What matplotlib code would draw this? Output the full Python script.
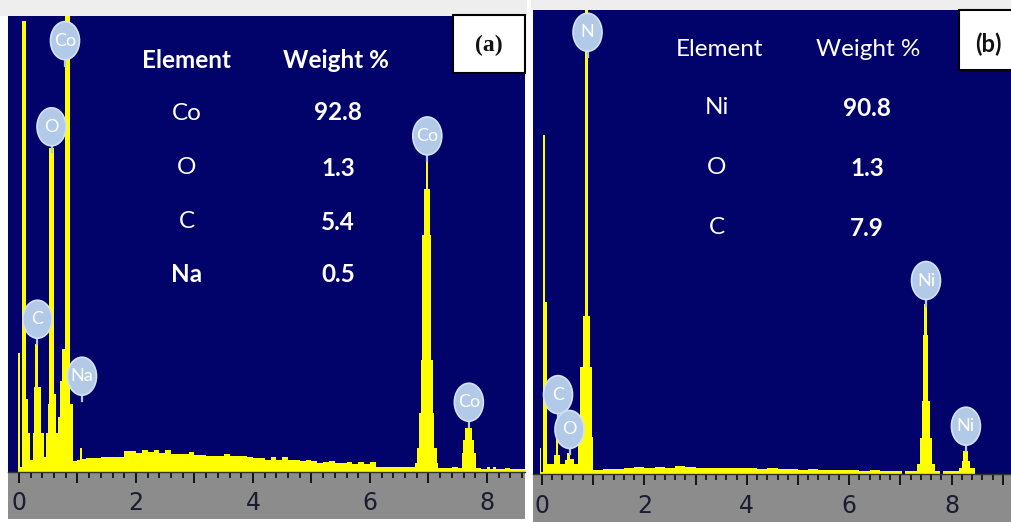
import matplotlib
matplotlib.use("Agg")
import matplotlib.pyplot as plt
from matplotlib.patches import Ellipse, Rectangle
from matplotlib.lines import Line2D
from matplotlib.transforms import ScaledTranslation
import numpy as np

# ---------------- data ----------------
# Panel (a): Co sample, bin edges (keV) and counts (arb. units, 0-100)
edges_a = [-0.19, -0.02, 0.01, 0.045, 0.12, 0.15, 0.19, 0.24, 0.26, 0.28, 0.33, 0.38, 0.42,
           0.46, 0.49, 0.52, 0.60, 0.63, 0.67, 0.70, 0.74, 0.78, 0.88, 0.92, 1.00, 1.04, 1.08,
           1.15, 1.2, 1.3, 1.4, 1.5, 1.6, 1.7, 1.8, 1.9, 2.0, 2.1, 2.2, 2.3, 2.4, 2.5, 2.6, 2.7,
           2.8, 2.9, 3.0, 3.1, 3.2, 3.3, 3.4, 3.5, 3.6, 3.7, 3.8, 3.9, 4.0, 4.1, 4.2, 4.3, 4.4,
           4.5, 4.6, 4.7, 4.8, 4.9, 5.0, 5.1, 5.2, 5.3, 5.4, 5.5, 5.6, 5.7, 5.8, 5.9, 6.0, 6.1,
           6.2, 6.3, 6.4, 6.5, 6.6, 6.7, 6.77, 6.80, 6.84, 6.87, 6.89, 6.92, 6.95, 7.00, 7.03,
           7.045, 7.07, 7.10, 7.14, 7.17, 7.3, 7.4, 7.5, 7.57, 7.59, 7.62, 7.74, 7.78, 7.82, 7.9,
           8.0, 8.05, 8.1, 8.15, 8.3, 8.4, 8.5, 8.65]
counts_a = [0, 26, 1, 99, 16, 8.5, 2.6, 8.5, 18.6, 28, 18.6, 8.5, 3.3,
            8.5, 15, 71, 17, 8.5, 12, 20, 27, 100, 15, 2.4, 2.6, 5.2, 2.8,
            3.0, 3.1, 3.1, 3.2, 3.2, 3.3, 3.3, 4.6, 4.6, 4.2, 4.8, 4.3, 4.8, 4.2, 4.8, 3.9, 3.9,
            3.9, 4.4, 3.7, 3.7, 3.6, 3.6, 3.5, 3.9, 3.5, 3.4, 3.6, 3.3, 3.1, 3.0, 2.7, 3.2, 2.6,
            3.2, 2.6, 2.6, 2.5, 2.7, 2.4, 2.0, 2.1, 2.5, 2.0, 1.9, 2.3, 1.8, 2.2, 1.7, 2.2, 1.1,
            1.1, 1.1, 1.0, 1.1, 1.0, 1.2, 2, 5.2, 13, 24.5, 52, 62, 71, 62,
            52, 24.5, 13, 5.2, 2, 0.9, 0.9, 1.0, 0.9, 4.2, 7, 9.6, 7, 4.2, 0.8,
            0.7, 1.1, 0.7, 1.1, 0.7, 0.9, 0.7, 0.7]

peak_names_a = ["Co", "O", "C", "Na", "Co", "Co"]
peak_energy_a = [0.786, 0.556, 0.316, 1.077, 6.98, 7.69]
peak_level_a = [94.6, 75.7, 33.5, 21.0, 73.7, 15.3]

table_elem_a = ["Co", "O", "C", "Na"]
table_wt_a = ["92.8", "1.3", "5.4", "0.5"]

# Panel (b): Ni sample
edges_b = [-0.18, -0.04, -0.01, 0.025, 0.06, 0.09, 0.24, 0.27, 0.32, 0.35, 0.45, 0.48, 0.55,
           0.63, 0.71, 0.74, 0.81, 0.84, 0.905, 0.94, 0.97, 1.0, 1.2, 1.4, 1.6, 1.8, 2.0, 2.2,
           2.4, 2.6, 2.8, 3.0, 3.2, 3.4, 3.6, 3.8, 4.0, 4.2, 4.4, 4.6, 4.8, 5.0, 5.2, 5.4, 5.6,
           5.8, 6.0, 6.2, 6.4, 6.6, 6.8, 7.0, 7.03, 7.09, 7.318, 7.383, 7.415, 7.448, 7.467,
           7.513, 7.546, 7.578, 7.61, 7.676, 7.77, 7.83, 8.15, 8.2, 8.23, 8.33, 8.36, 8.46, 9.18]
counts_b = [0, 5.6, 0.5, 73, 37, 2.2, 4, 10, 4, 2.2, 3, 4.5,
            3.2, 2.2, 8, 23, 34, 100, 34, 23, 8, 0.9, 1.0, 1.1, 1.2, 1.6, 1.3, 1.6,
            1.3, 1.7, 1.6, 1.3, 1.3, 1.3, 1.4, 1.3, 1.2, 1.1, 1.2, 1.0, 1.1, 0.9, 1.0, 0.9, 0.8,
            0.9, 0.8, 0.7, 0.8, 0.7, 0.7, 0.6, 0, 0.6, 2.2, 7.8, 15.8, 30, 36.7,
            30, 15.8, 7.8, 2.2, 0.6, 0, 0.6, 1.3, 2.8, 5.0, 2.8, 1.3, 0]

peak_names_b = ["N", "C", "O", "Ni", "Ni"]
peak_energy_b = [0.889, 0.3125, 0.537, 7.50, 8.28]
peak_level_b = [95.2, 17.1, 9.6, 41.7, 10.3]

table_elem_b = ["Ni", "O", "C"]
table_wt_b = ["90.8", "1.3", "7.9"]

tick_labels = ["0", "2", "4", "6", "8"]

# ---------------- style ----------------
W, H = 1012, 522
NAVY = "#02026b"
YELLOW = "#ffff00"
GRAY = "#8c8c8c"
BUBBLE = "#b3c9e8"
BUBBLE_EDGE = "#d3e2f5"

fig = plt.figure(figsize=(W / 100, H / 100), dpi=100)
fig.patch.set_facecolor("white")


def px_axes(x0, y0, x1, y1):
    return fig.add_axes([x0 / W, 1 - y1 / H, (x1 - x0) / W, (y1 - y0) / H])


def fx(x):
    return x / W


def fy(y):
    return 1 - y / H


# light strips at the top
fig.patches.append(Rectangle((fx(0), fy(16)), fx(527), 16 / H, transform=fig.transFigure,
                             facecolor="#eeeeee", edgecolor="none", zorder=0))
fig.patches.append(Rectangle((fx(531), fy(10)), fx(481), 10 / H, transform=fig.transFigure,
                             facecolor="#eeeeee", edgecolor="none", zorder=0))


def bubble(ax, E, c, name):
    tr = fig.dpi_scale_trans + ScaledTranslation(E, c, ax.transData)
    ax.add_line(Line2D([0, 0], [-0.17, -0.25], transform=tr, color=BUBBLE, lw=1.6, zorder=4))
    ax.add_patch(Ellipse((0, 0), 0.29, 0.38, transform=tr, facecolor=BUBBLE,
                         edgecolor=BUBBLE_EDGE, lw=1.2, zorder=5))
    ax.text(E, c, name, transform=ax.transData, ha="center", va="center", color="white",
            fontsize=13, family="Lato", zorder=6)


def panel(spec_box, axis_box, xlim, edges, counts, names, energies, levels):
    ax = px_axes(*spec_box)
    ax.set_facecolor(NAVY)
    ax.stairs(counts, edges, fill=True, color=YELLOW, lw=0)
    ax.set_xticks([])
    ax.set_yticks([])
    ax.set_xlim(*xlim)
    ax.set_ylim(0, 100)
    for s in ax.spines.values():
        s.set_visible(False)
    for n, e, l in zip(names, energies, levels):
        bubble(ax, e, l, n)

    axx = px_axes(*axis_box)
    axx.set_facecolor(GRAY)
    axx.set_yticks([])
    axx.xaxis.set_ticks_position("top")
    axx.set_xticks(range(0, 10))
    axx.set_xticks(np.arange(0, 9.2, 0.2), minor=True)
    axx.set_xlim(*xlim)
    axx.set_ylim(0, 1)
    axx.tick_params(axis="x", which="major", direction="in", length=8, width=1.2,
                    color="black", labeltop=False, labelbottom=False)
    axx.tick_params(axis="x", which="minor", direction="in", length=4, width=1.1,
                    color="black")
    for s in ["left", "right", "bottom"]:
        axx.spines[s].set_visible(False)
    axx.spines["top"].set_color("#333333")
    axx.spines["top"].set_linewidth(1.0)
    for i, lab in enumerate(tick_labels):
        axx.text(2 * i, 0.33, lab, ha="center", va="center", fontsize=17,
                 color="#1c1c30", family=["Liberation Sans Narrow", "DejaVu Sans"])
    return ax


axa = panel((8, 16, 525, 472), (8, 472, 525, 519), (-0.188, 8.65),
            edges_a, counts_a, peak_names_a, peak_energy_a, peak_level_a)
axb = panel((533, 10, 1012, 474), (533, 474, 1012, 522), (-0.176, 9.18),
            edges_b, counts_b, peak_names_b, peak_energy_b, peak_level_b)

# ---------------- tables ----------------
TF = "Lato"
FS = 17.5
fig.text(fx(187), fy(60), "Element", ha="center", va="center", color="white",
         fontsize=FS, fontweight="bold", family=TF)
fig.text(fx(336), fy(60), "Weight %", ha="center", va="center", color="white",
         fontsize=FS, fontweight="bold", family=TF)
rows_a = [113, 168, 222, 274]
for i, (el, wt) in enumerate(zip(table_elem_a, table_wt_a)):
    fig.text(fx(187), fy(rows_a[i]), el, ha="center", va="center", color="white",
             fontsize=FS, fontweight="bold" if el == "Na" else "normal", family=TF)
    fig.text(fx(338), fy(rows_a[i]), wt, ha="center", va="center", color="white",
             fontsize=FS, fontweight="bold", family=TF)

fig.text(fx(720), fy(50), "Element", ha="center", va="center", color="white",
         fontsize=FS, family=TF)
fig.text(fx(868), fy(50), "Weight %", ha="center", va="center", color="white",
         fontsize=FS, family=TF)
rows_b = [108, 168, 228]
for i, (el, wt) in enumerate(zip(table_elem_b, table_wt_b)):
    fig.text(fx(717), fy(rows_b[i]), el, ha="center", va="center", color="white",
             fontsize=FS, family=TF)
    fig.text(fx(867), fy(rows_b[i]), wt, ha="center", va="center", color="white",
             fontsize=FS, fontweight="bold", family=TF)

# ---------------- panel labels ----------------
fig.patches.append(Rectangle((fx(453), fy(73)), (525 - 453) / W, (73 - 15) / H,
                             transform=fig.transFigure, facecolor="white",
                             edgecolor="black", lw=1.5, zorder=10))
fig.text(fx(489), fy(45), "(a)", ha="center", va="center", fontsize=17, fontweight="bold",
         family="Liberation Serif", color="#111111", zorder=11)
fig.patches.append(Rectangle((fx(959), fy(70)), (1013 - 959) / W, (70 - 10) / H,
                             transform=fig.transFigure, facecolor="white",
                             edgecolor="black", lw=1.5, zorder=10))
fig.text(fx(988), fy(44), "(b)", ha="center", va="center", fontsize=17, fontweight="bold",
         family="Lato", color="#111111", zorder=11)

fig.savefig("out.png", dpi=100, facecolor=fig.get_facecolor())
